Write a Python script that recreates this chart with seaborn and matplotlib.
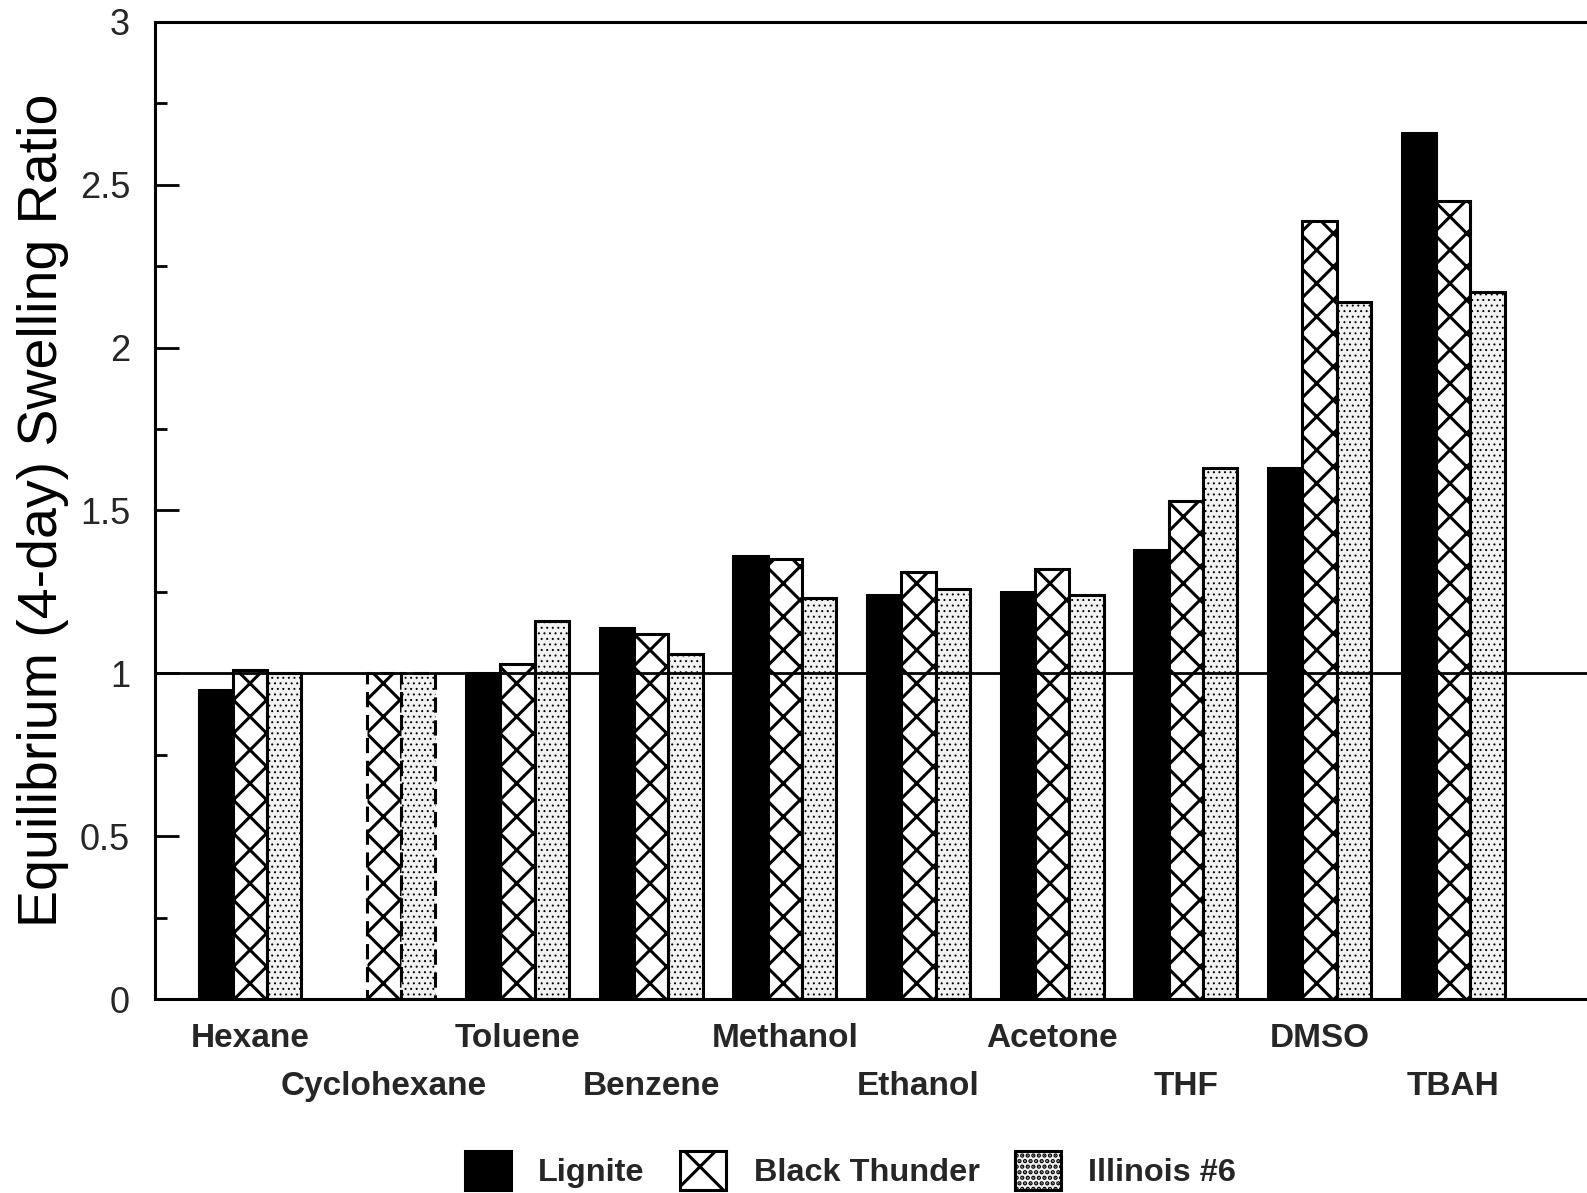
import matplotlib
matplotlib.use("Agg")
import matplotlib.pyplot as plt
import seaborn as sns
import pandas as pd
import numpy as np
from matplotlib.patches import Patch

solvents = ["Hexane", "Cyclohexane", "Toluene", "Benzene", "Methanol",
            "Ethanol", "Acetone", "THF", "DMSO", "TBAH"]
coals = ["Lignite", "Black Thunder", "Illinois #6"]
lignite = [0.95, np.nan, 1.00, 1.14, 1.36, 1.24, 1.25, 1.38, 1.63, 2.66]
black_thunder = [1.01, 1.00, 1.03, 1.12, 1.35, 1.31, 1.32, 1.53, 2.39, 2.45]
illinois6 = [1.00, 1.00, 1.16, 1.06, 1.23, 1.26, 1.24, 1.63, 2.14, 2.17]
yticks = [0, 0.5, 1, 1.5, 2, 2.5, 3]
ytick_labels = ["0", "0.5", "1", "1.5", "2", "2.5", "3"]

df = pd.DataFrame({
    "Solvent": solvents * 3,
    "Coal": [c for c in coals for _ in solvents],
    "Ratio": lignite + black_thunder + illinois6,
}).dropna()

sns.set_theme(style="white")
plt.rcParams["font.family"] = ["Liberation Sans", "DejaVu Sans"]
plt.rcParams["hatch.linewidth"] = 1.1
plt.rcParams["hatch.color"] = "black"

fig = plt.figure(figsize=(7.935, 5.965), dpi=200)
ax = fig.add_axes([0.0977, 0.1626, 0.9023, 0.819])

palette = {"Lignite": "black", "Black Thunder": "white", "Illinois #6": "#f2f2f2"}
sns.barplot(data=df, x="Solvent", y="Ratio", hue="Coal", order=solvents,
            hue_order=coals, palette=palette, width=0.77, errorbar=None,
            edgecolor="black", linewidth=1.1, saturation=1, ax=ax, legend=False)

hatches = {"Lignite": "", "Black Thunder": "xx", "Illinois #6": "......"}
hatch_lw = {"Lignite": 1.1, "Black Thunder": 1.1, "Illinois #6": 0.35}
for coal, cont in zip(coals, ax.containers):
    for p in cont.patches:
        p.set_hatch(hatches[coal])
        if hasattr(p, "set_hatch_linewidth"):
            p.set_hatch_linewidth(hatch_lw[coal])
        cx = p.get_x() + p.get_width() / 2
        if int(round(cx)) == 1:
            p.set_linestyle((0, (5, 2.5)))

ax.axhline(1.0, color="black", lw=1.0, zorder=5)

ax.set_xlim(-0.71, 10.0)
ax.set_ylim(0, 3)
ax.set_yticks(yticks)
ax.set_yticklabels(ytick_labels, fontsize=13)
ax.set_yticks(np.arange(0.25, 3, 0.5), minor=True)
ax.tick_params(axis="y", which="major", direction="in", length=8.5, width=1.0,
               pad=9, left=True, color="black")
ax.tick_params(axis="y", which="minor", direction="in", length=4.3, width=1.0,
               left=True, color="black")
ax.tick_params(axis="x", length=0)
for lbl in ax.get_xticklabels():
    lbl.set_fontsize(12)
    lbl.set_fontweight("bold")
for i, t in enumerate(ax.xaxis.get_major_ticks()):
    t.set_pad(8.6 if i % 2 == 0 else 26.0)

for s in ["left", "top", "bottom"]:
    ax.spines[s].set_visible(True)
    ax.spines[s].set_color("black")
    ax.spines[s].set_linewidth(1.1)
ax.spines["right"].set_visible(False)

ax.set_xlabel("")
ax.set_ylabel("Equilibrium (4-day) Swelling Ratio", fontsize=20, color="black")
ax.yaxis.set_label_coords(-0.060, 0.5)

handles = []
for c in coals:
    h = Patch(facecolor=palette[c], edgecolor="black", hatch=hatches[c].replace("xx", "x"),
              linewidth=1.1, label=c)
    if hasattr(h, "set_hatch_linewidth"):
        h.set_hatch_linewidth(hatch_lw[c])
    handles.append(h)
leg = fig.legend(handles=handles, loc="center", bbox_to_anchor=(0.536, 0.019), ncol=3,
                 frameon=False, prop={"size": 11.7, "weight": "bold"},
                 handlelength=1.4, handleheight=1.5,
                 handletextpad=0.85, columnspacing=1.1)

fig.savefig("out.png", dpi=200)
